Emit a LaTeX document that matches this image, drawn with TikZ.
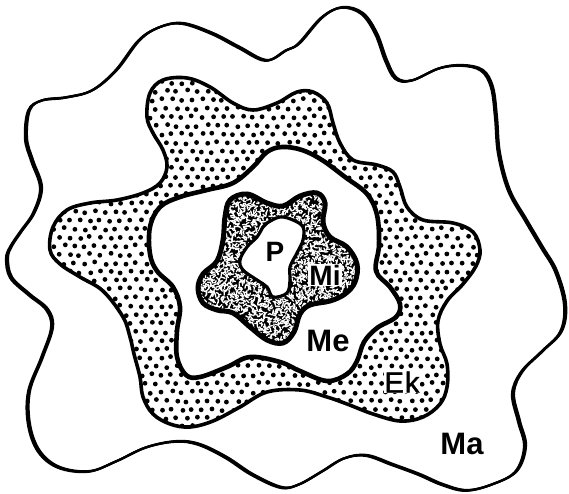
\documentclass[tikz,border=0pt]{standalone}
\usepackage{fontspec}
\setmainfont{Liberation Sans}
\newfontfamily\ekfont[FakeBold=1.5]{Liberation Sans}
\begin{document}
\begin{tikzpicture}[x=1pt,y=-1pt,
  lbl/.style={font=\fontsize{31}{31}\selectfont\bfseries, inner sep=0pt},
  lblr/.style={font=\ekfont\fontsize{29}{29}\selectfont, inner sep=0pt},
  memb/.style={line width=2.2pt}]
\useasboundingbox (0,0) rectangle (569,494);
\def\mapts{(30,110) (43,100) (67,97) (93,90) (117,70) (140,40) (160,27) (183,23) (213,33) (240,47) (267,60) (287,50) (300,43) (323,17) (343,7) (363,13) (377,33) (387,60) (397,78) (413,80) (440,68) (463,65) (483,70) (493,87) (497,117) (500,153) (510,190) (527,220) (543,247) (557,271) (566,304) (562,331) (543,351) (523,371) (514,393) (520,421) (526,446) (517,471) (493,484) (467,490) (443,484) (420,474) (393,464) (367,455) (345,458) (323,471) (300,484) (282,487) (253,474) (227,457) (200,444) (177,441) (147,447) (117,461) (90,471) (60,467) (40,451) (30,424) (30,391) (43,357) (53,327) (48,309) (30,294) (12,277) (8,258) (12,246) (22,231) (35,212) (42,187) (33,160) (27,138)}
\def\ekpts{(147,117) (150,93) (163,80) (187,78) (210,87) (233,103) (253,110) (277,103) (297,92) (313,92) (327,103) (333,123) (340,143) (353,160) (377,165) (393,172) (400,187) (407,207) (423,220) (453,223) (473,232) (480,250) (476,266) (463,284) (447,301) (438,321) (440,344) (447,364) (447,387) (440,404) (423,417) (400,421) (373,414) (347,404) (327,397) (300,390) (267,392) (240,407) (213,421) (190,427) (170,424) (153,414) (143,397) (140,377) (134,354) (130,337) (123,317) (103,291) (80,277) (60,264) (50,250) (53,227) (67,210) (90,203) (117,200) (143,193) (160,183) (167,167) (163,150) (153,133)}
\def\mepts{(150,227) (160,207) (180,197) (207,190) (233,183) (253,167) (267,152) (282,147) (302,150) (322,160) (345,177) (367,194) (377,215) (379,245) (376,271) (390,287) (400,304) (396,317) (377,328) (364,342) (357,361) (347,374) (327,381) (300,371) (280,362) (250,357) (227,367) (200,377) (186,375) (177,357) (177,331) (180,307) (173,287) (157,271) (150,254)}
\def\mipts{(230,200) (247,194) (267,203) (283,206) (300,196) (317,193) (325,203) (323,222) (330,237) (347,247) (357,264) (355,282) (345,294) (330,301) (310,305) (300,314) (294,332) (283,343) (267,340) (250,327) (233,313) (217,310) (203,303) (198,288) (203,274) (217,261) (223,240) (225,217)}
\def\ppts{(267,223) (280,217) (293,220) (303,227) (303,240) (297,253) (290,267) (290,280) (287,293) (273,297) (267,287) (257,280) (243,270) (240,260) (247,247) (257,237) (263,227)}
% outer membrane (Ma)
\draw[memb] plot[smooth cycle, tension=0.6] coordinates {\mapts};
\draw[memb, xshift=-1pt, yshift=-0.4pt] plot[smooth cycle, tension=0.6] coordinates {\mapts};
\draw[memb, xshift=-2pt, yshift=-0.8pt] plot[smooth cycle, tension=0.6] coordinates {\mapts};
% Ek dotted band
\begin{scope}
\clip plot[smooth cycle, tension=0.6] coordinates {\ekpts};
\pgfmathsetseed{7}
\foreach \j in {0,...,42} {
  \foreach \i in {0,...,44} {
    \pgfmathsetmacro\xx{44+10.2*\i+5.1*mod(\j,2)+1.3*rand}
    \pgfmathsetmacro\yy{74+8.6*\j+1.3*rand}
    \fill (\xx,\yy) circle (2.4);
  }
}
\end{scope}
\draw[line width=3.6pt] plot[smooth cycle, tension=0.6] coordinates {\ekpts};
% Me region
\fill[white] plot[smooth cycle, tension=0.6] coordinates {\mepts};
\draw[line width=4.6pt] plot[smooth cycle, tension=0.6] coordinates {\mepts};
% Mi ring
\fill plot[smooth cycle, tension=0.6] coordinates {\mipts};
\begin{scope}
\clip plot[smooth cycle, tension=0.6] coordinates {\mipts};
\pgfmathsetseed{11}
\foreach \j in {0,...,52} {
  \foreach \i in {0,...,56} {
    \pgfmathsetmacro\xx{194+3*\i+1.5*rand}
    \pgfmathsetmacro\yy{189+3*\j+1.5*rand}
    \pgfmathsetmacro\aa{180*rand}
    \pgfmathsetmacro\bb{\aa+70*rand}
    \draw[white, line width=1.3pt, line cap=round] (\xx,\yy) -- ++(\aa:2) -- ++(\bb:1.8);
  }
}
\end{scope}
\draw[line width=5pt] plot[smooth cycle, tension=0.6] coordinates {\mipts};
% P region
\fill[white] plot[smooth cycle, tension=0.6] coordinates {\ppts};
\draw[line width=3.2pt] plot[smooth cycle, tension=0.6] coordinates {\ppts};
% labels
\node[lbl, font=\fontsize{28}{28}\selectfont\bfseries] (p) at (275,252) {P};
\node[lbl, font=\fontsize{28}{28}\selectfont\bfseries, fill=white, inner sep=1pt] (mi) at (325,275) {Mi};
\node[lbl] (me) at (328,341) {Me};
\node[lblr, fill=white, inner sep=0.5pt] (ek) at (402,382) {E\kern1pt k};
\node[lbl] (ma) at (462,444) {Ma};
\end{tikzpicture}
\end{document}
